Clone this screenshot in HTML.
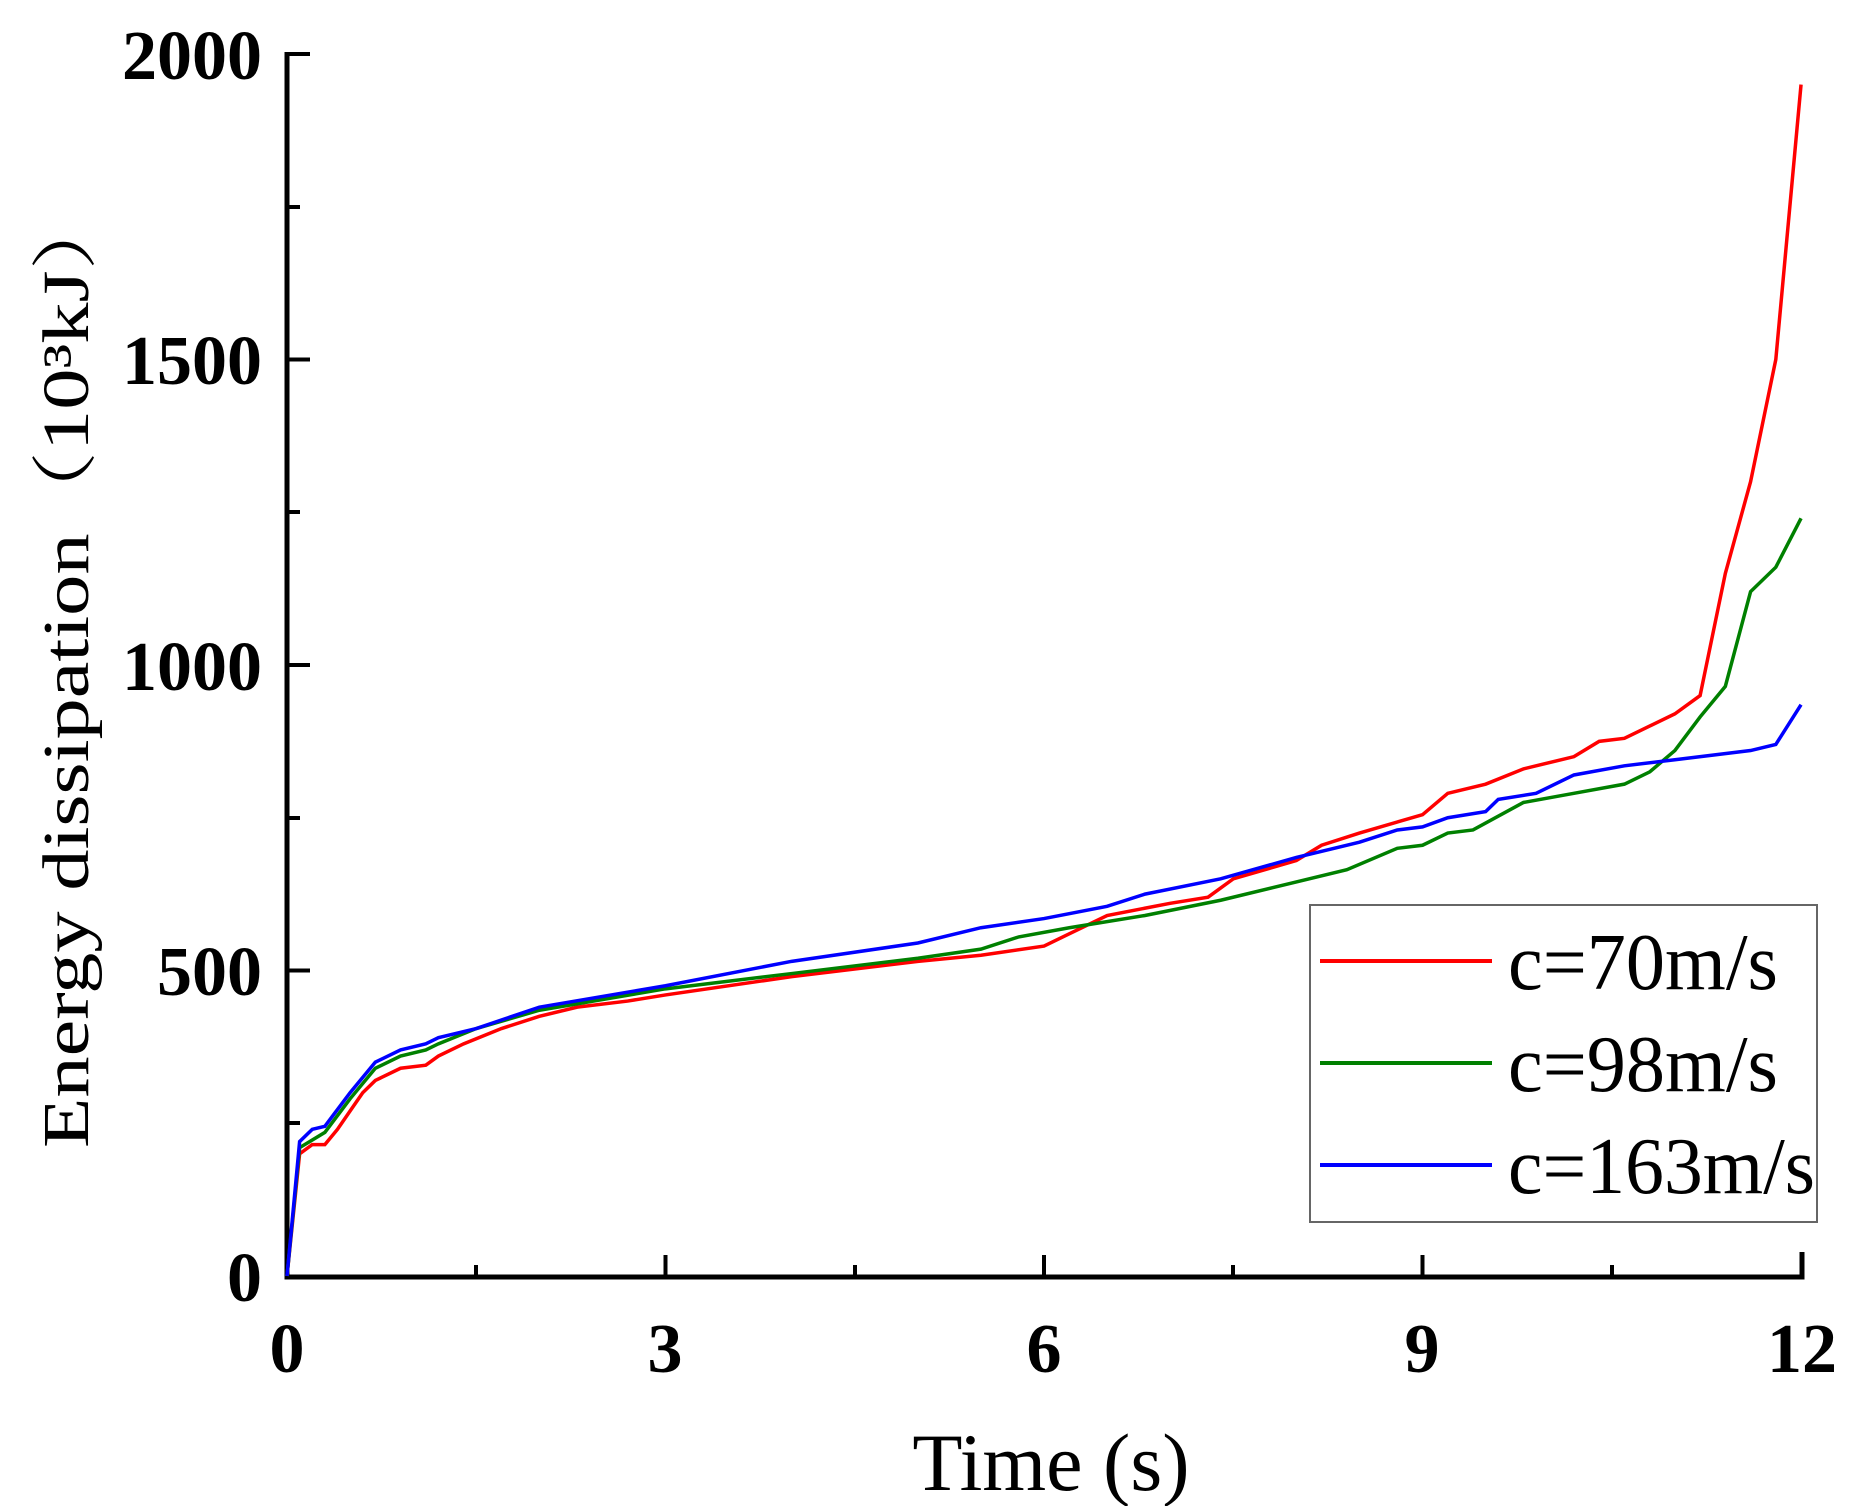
<!DOCTYPE html>
<html><head><meta charset="utf-8"><style>html,body{margin:0;padding:0;background:#fff}svg{display:block}</style></head>
<body>
<svg width="1872" height="1506" viewBox="0 0 1872 1506" xmlns="http://www.w3.org/2000/svg" font-family="Liberation Serif, serif">
<rect width="1872" height="1506" fill="#fff"/>
<g stroke="#000" stroke-width="4" fill="none">
<path d="M287 52 V1277 H1802 V1252" stroke-width="5"/>
<path d="M287 54 H310 M287 359.5 H310 M287 665 H310 M287 970.5 H310 M287 207 H300 M287 512 H300 M287 818 H300 M287 1123 H300"/>
<path d="M665.5 1277 V1255 M1044 1277 V1255 M1422.5 1277 V1255 M476 1277 V1265 M855 1277 V1265 M1233 1277 V1265 M1612 1277 V1265"/>
</g>
<g font-size="70" font-weight="bold" text-anchor="end">
<text x="262" y="79">2000</text><text x="262" y="384">1500</text><text x="262" y="690">1000</text><text x="262" y="995">500</text><text x="262" y="1301">0</text>
</g>
<g font-size="70" font-weight="bold" text-anchor="middle">
<text x="287" y="1372">0</text><text x="665" y="1372">3</text><text x="1044" y="1372">6</text><text x="1422" y="1372">9</text><text x="1802" y="1372">12</text>
</g>
<text x="1051" y="1490" font-size="82" text-anchor="middle">Time (s)</text>
<text transform="translate(88,668) rotate(-90)" font-size="66" text-anchor="middle" textLength="960" lengthAdjust="spacingAndGlyphs" font-family="Liberation Serif, Noto Serif CJK SC, serif">Energy dissipation（10³kJ）</text>
<g fill="none" stroke-width="3.5" transform="matrix(126.17 0 0 -0.611 287 1276)">
<polyline vector-effect="non-scaling-stroke" stroke="#ff0000" points="0,0 0.1,200 0.2,215 0.3,215 0.4,240 0.5,270 0.6,300 0.7,320 0.9,340 1.1,345 1.2,360 1.4,380 1.7,405 2,425 2.3,440 2.7,450 3,460 4,490 5,515 5.5,525 6,540 6.2,560 6.5,590 7,610 7.3,620 7.5,650 8,680 8.2,705 8.5,725 9,755 9.2,790 9.5,805 9.8,830 10.2,850 10.4,875 10.6,880 10.8,900 11,920 11.2,950 11.4,1150 11.6,1300 11.8,1500 12,1950"/>
<polyline vector-effect="non-scaling-stroke" stroke="#008000" points="0,0 0.1,210 0.3,235 0.5,290 0.7,340 0.9,360 1.1,370 1.2,380 1.5,405 2,435 3,470 4,495 5,520 5.5,535 5.8,555 6.2,570 6.8,590 7.4,615 8,645 8.4,665 8.8,700 9,705 9.2,725 9.4,730 9.8,775 10.2,790 10.6,805 10.8,825 11,860 11.2,915 11.4,965 11.6,1120 11.8,1160 12,1240"/>
<polyline vector-effect="non-scaling-stroke" stroke="#0000ff" points="0,0 0.1,220 0.2,240 0.3,245 0.5,300 0.7,350 0.9,370 1.1,380 1.2,390 1.5,405 2,440 3,475 4,515 5,545 5.5,570 6,585 6.5,605 6.8,625 7.4,650 8,685 8.5,710 8.8,730 9,735 9.2,750 9.5,760 9.6,780 9.9,790 10.2,820 10.6,835 11,845 11.6,860 11.8,870 12,935"/>
</g>
<rect x="1310" y="905" width="507" height="317" fill="#fff" stroke="#666" stroke-width="2"/>
<g stroke-width="4">
<line x1="1320" y1="961" x2="1492" y2="961" stroke="#ff0000"/>
<line x1="1320" y1="1063" x2="1492" y2="1063" stroke="#008000"/>
<line x1="1320" y1="1165" x2="1492" y2="1165" stroke="#0000ff"/>
</g>
<g font-size="80">
<text x="1508" y="989" textLength="270" lengthAdjust="spacingAndGlyphs">c=70m/s</text><text x="1508" y="1091" textLength="270" lengthAdjust="spacingAndGlyphs">c=98m/s</text><text x="1508" y="1193" textLength="307" lengthAdjust="spacingAndGlyphs">c=163m/s</text>
</g>
</svg>
</body></html>
